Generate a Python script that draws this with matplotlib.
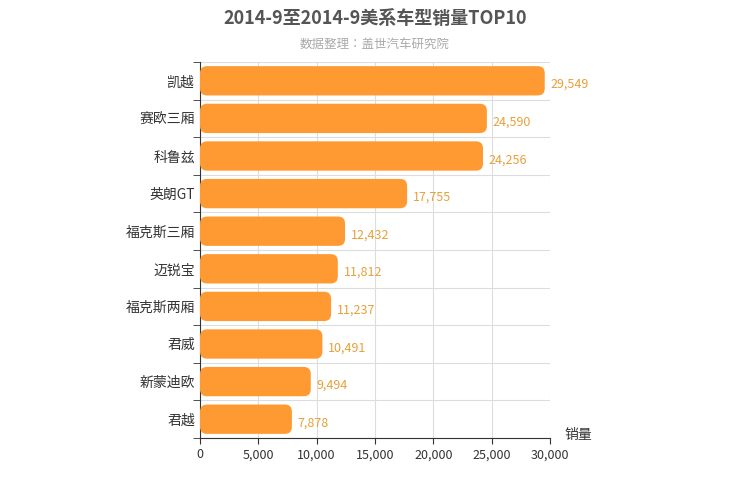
import matplotlib.pyplot as plt
import numpy as np
from matplotlib import font_manager
from matplotlib.patches import FancyBboxPatch

# pick whichever CJK family is actually registered
cjk = [f.name for f in font_manager.fontManager.ttflist if "CJK" in f.name]
plt.rcParams["font.family"] = ["DejaVu Sans"] + sorted(set(cjk))
plt.rcParams["font.sans-serif"] = sorted(set(cjk)) + ["DejaVu Sans"]
if cjk:
    plt.rcParams["font.family"] = sorted(set(cjk))[0]

models = ["凯越", "赛欧三厢", "科鲁兹", "英朗GT", "福克斯三厢", "迈锐宝", "福克斯两厢", "君威", "新蒙迪欧", "君越"]
sales = [29549, 24590, 24256, 17755, 12432, 11812, 11237, 10491, 9494, 7878]

fig = plt.figure(figsize=(7.5, 5), dpi=100)
ax = fig.add_axes([200 / 750, 62 / 500, 350 / 750, 376 / 500])

n = len(models)
ypos = np.arange(n)[::-1]
h = 0.78
xmax = 30000
# data units per pixel, for rounded corners
sx = xmax / 350
sy = n / 376
for y, v in zip(ypos, sales):
    p = FancyBboxPatch((0, y - h / 2), v, h,
                       boxstyle=f"round,pad=0,rounding_size={7 * sx}",
                       mutation_aspect=sy / sx,
                       facecolor="#ff9a33", edgecolor="none", zorder=3)
    ax.add_patch(p)
    ax.text(v + 500, y - 0.1, f"{v:,}", va="center", ha="left",
            color="#e8a03a", fontsize=9, zorder=4)

ax.set_xlim(0, xmax)
ax.set_ylim(-0.5, n - 0.5)
ax.set_xticks(np.arange(0, 30001, 5000))
ax.set_xticklabels([f"{x:,}" for x in range(0, 30001, 5000)], fontsize=9, color="#333")
ax.set_yticks(ypos)
ax.set_yticklabels(models, fontsize=10, color="#333")
ax.set_yticks(np.arange(-0.5, n, 1), minor=True)
ax.tick_params(axis="y", which="minor", length=5, color="#333")
ax.tick_params(axis="y", which="major", length=0)
ax.tick_params(axis="x", length=4, color="#333")
ax.grid(axis="x", color="#dddddd", lw=0.8, zorder=0)
ax.grid(axis="y", which="minor", color="#dddddd", lw=0.8, zorder=0)
for s in ["top", "right"]:
    ax.spines[s].set_visible(False)
for s in ["left", "bottom"]:
    ax.spines[s].set_color("#333")

ax.text(1.04, -0.01, "销量", transform=ax.transAxes, fontsize=10, color="#333", ha="left", va="bottom")
fig.text(0.5, 0.962, "2014-9至2014-9美系车型销量TOP10", ha="center", va="center",
         fontsize=13, fontweight="bold", color="#555555")
fig.text(0.5, 0.912, "数据整理：盖世汽车研究院", ha="center", va="center",
         fontsize=9, color="#aaaaaa")

fig.savefig("out.png", dpi=100)
